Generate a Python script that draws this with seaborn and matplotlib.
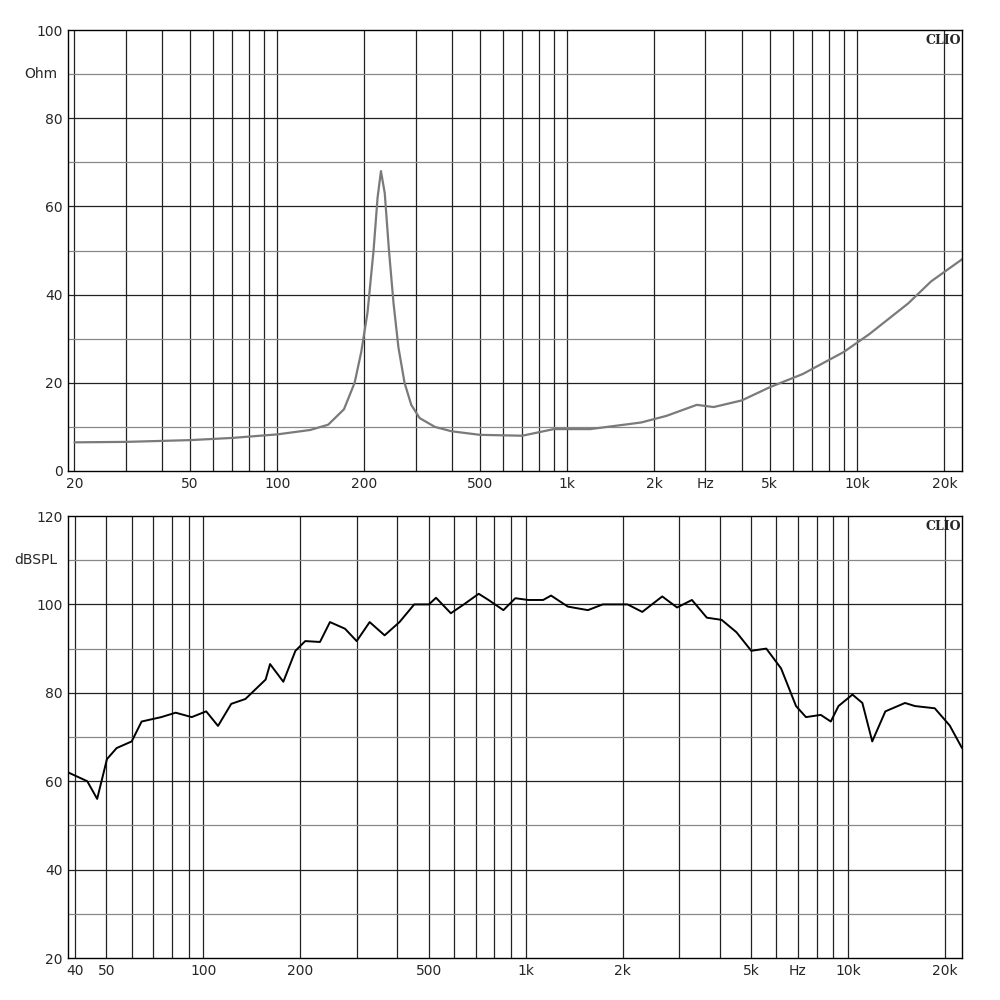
import matplotlib
matplotlib.use("Agg")
import matplotlib.pyplot as plt
import seaborn as sns
import numpy as np
from matplotlib.ticker import FixedLocator, NullFormatter

sns.set_theme(style="white")
plt.rcParams['font.family'] = ['DejaVu Sans']

imp_freq = [20, 30, 50, 70, 100, 130, 150, 170, 185, 195, 205, 215, 222, 228, 235, 243, 252, 262, 275, 290,
            310, 350, 400, 500, 700, 900, 1200, 1800, 2200, 2800, 3200, 4000, 5000, 6500, 9000, 11000, 15000, 18000, 23000]
imp_ohm = [6.5, 6.6, 7.0, 7.5, 8.3, 9.3, 10.5, 14, 20, 27, 36, 50, 62, 68, 63, 50, 38, 28, 20, 15,
           12, 10, 9, 8.2, 8.0, 9.5, 9.5, 11, 12.5, 15, 14.5, 16, 19, 22, 27, 31, 38, 43, 48]

spl_freq = [38, 43.6, 46.8, 50.2, 53.8, 59.9, 64.3, 74, 82, 92, 102, 111, 122, 135, 156, 161, 177, 193, 207, 230,
            247, 275, 299, 328, 365, 406, 451, 501, 527, 586, 643, 715, 767, 853, 929, 1018, 1133, 1199, 1352, 1560,
            1735, 2071, 2301, 2654, 2951, 3281, 3649, 4057, 4510, 5014, 5582, 6206, 6903, 7411, 8240, 8850, 9350,
            10330, 11090, 11900, 13070, 15040, 16150, 18600, 20700, 22600]
spl_db = [62, 60, 56, 65, 67.5, 69, 73.5, 74.5, 75.5, 74.5, 75.8, 72.5, 77.5, 78.6, 83, 86.5, 82.5, 89.5, 91.7, 91.5,
          96, 94.5, 91.7, 96, 93, 96, 100, 100, 101.5, 98, 100, 102.4, 101, 98.7, 101.4, 101, 101, 102, 99.5, 98.7,
          100, 100, 98.3, 101.8, 99.3, 101, 97, 96.5, 93.7, 89.5, 90, 85.5, 77, 74.5, 75, 73.5, 77,
          79.6, 77.7, 69, 75.8, 77.7, 77, 76.5, 72.6, 67.5]

top_xticks = [20, 50, 100, 200, 500, 1000, 2000, 3000, 5000, 10000, 20000]
top_xlabels = ["20", "50", "100", "200", "500", "1k", "2k", "Hz", "5k", "10k", "20k"]
bot_xticks = [40, 50, 100, 200, 500, 1000, 2000, 5000, 7000, 10000, 20000]
bot_xlabels = ["40", "50", "100", "200", "500", "1k", "2k", "5k", "Hz", "10k", "20k"]

fig = plt.figure(figsize=(10, 10), dpi=100)
ax1 = fig.add_axes([0.068, 0.529, 0.894, 0.441])
ax2 = fig.add_axes([0.068, 0.042, 0.894, 0.442])

def grid_lines(ax, xmin, xmax):
    for d in [10, 100, 1000, 10000]:
        for m in range(1, 10):
            v = m * d
            if xmin < v < xmax:
                ax.axvline(v, color="#222222", lw=0.9, zorder=0)

def style(ax, xmin, xmax, ymin, ymax, ylab, xt, xl):
    ax.set_xscale("log")
    ax.set_xlim(xmin, xmax)
    ax.set_ylim(ymin, ymax)
    grid_lines(ax, xmin, xmax)
    for y in range(ymin + 10, ymax, 10):
        c = "#222222" if (y - ymin) % 20 == 0 else "#888888"
        ax.axhline(y, color=c, lw=0.9, zorder=0)
    ax.xaxis.set_major_locator(FixedLocator(xt))
    ax.set_xticklabels(xl)
    ax.xaxis.set_minor_locator(FixedLocator([]))
    ax.xaxis.set_minor_formatter(NullFormatter())
    ax.set_yticks(range(ymin, ymax + 1, 20))
    ax.tick_params(length=0, labelsize=10, pad=4)
    for s in ax.spines.values():
        s.set_color("black"); s.set_linewidth(1)
    ax.text(-0.012, (ymax - 10 - ymin) / (ymax - ymin), ylab, transform=ax.transAxes,
            ha="right", va="center", fontsize=10)
    ax.text(0.999, 0.99, "CLIO", transform=ax.transAxes, ha="right", va="top",
            fontsize=9, fontweight="bold", family="DejaVu Serif")
    ax.set_xlabel(""); ax.set_ylabel("")

sns.lineplot(x=imp_freq, y=imp_ohm, ax=ax1, color="#7a7a7a", lw=1.6)
style(ax1, 19, 23000, 0, 100, "Ohm", top_xticks, top_xlabels)
sns.lineplot(x=spl_freq, y=spl_db, ax=ax2, color="black", lw=1.4)
style(ax2, 38, 22600, 20, 120, "dBSPL", bot_xticks, bot_xlabels)

fig.savefig("out.png", dpi=100, facecolor="white")
